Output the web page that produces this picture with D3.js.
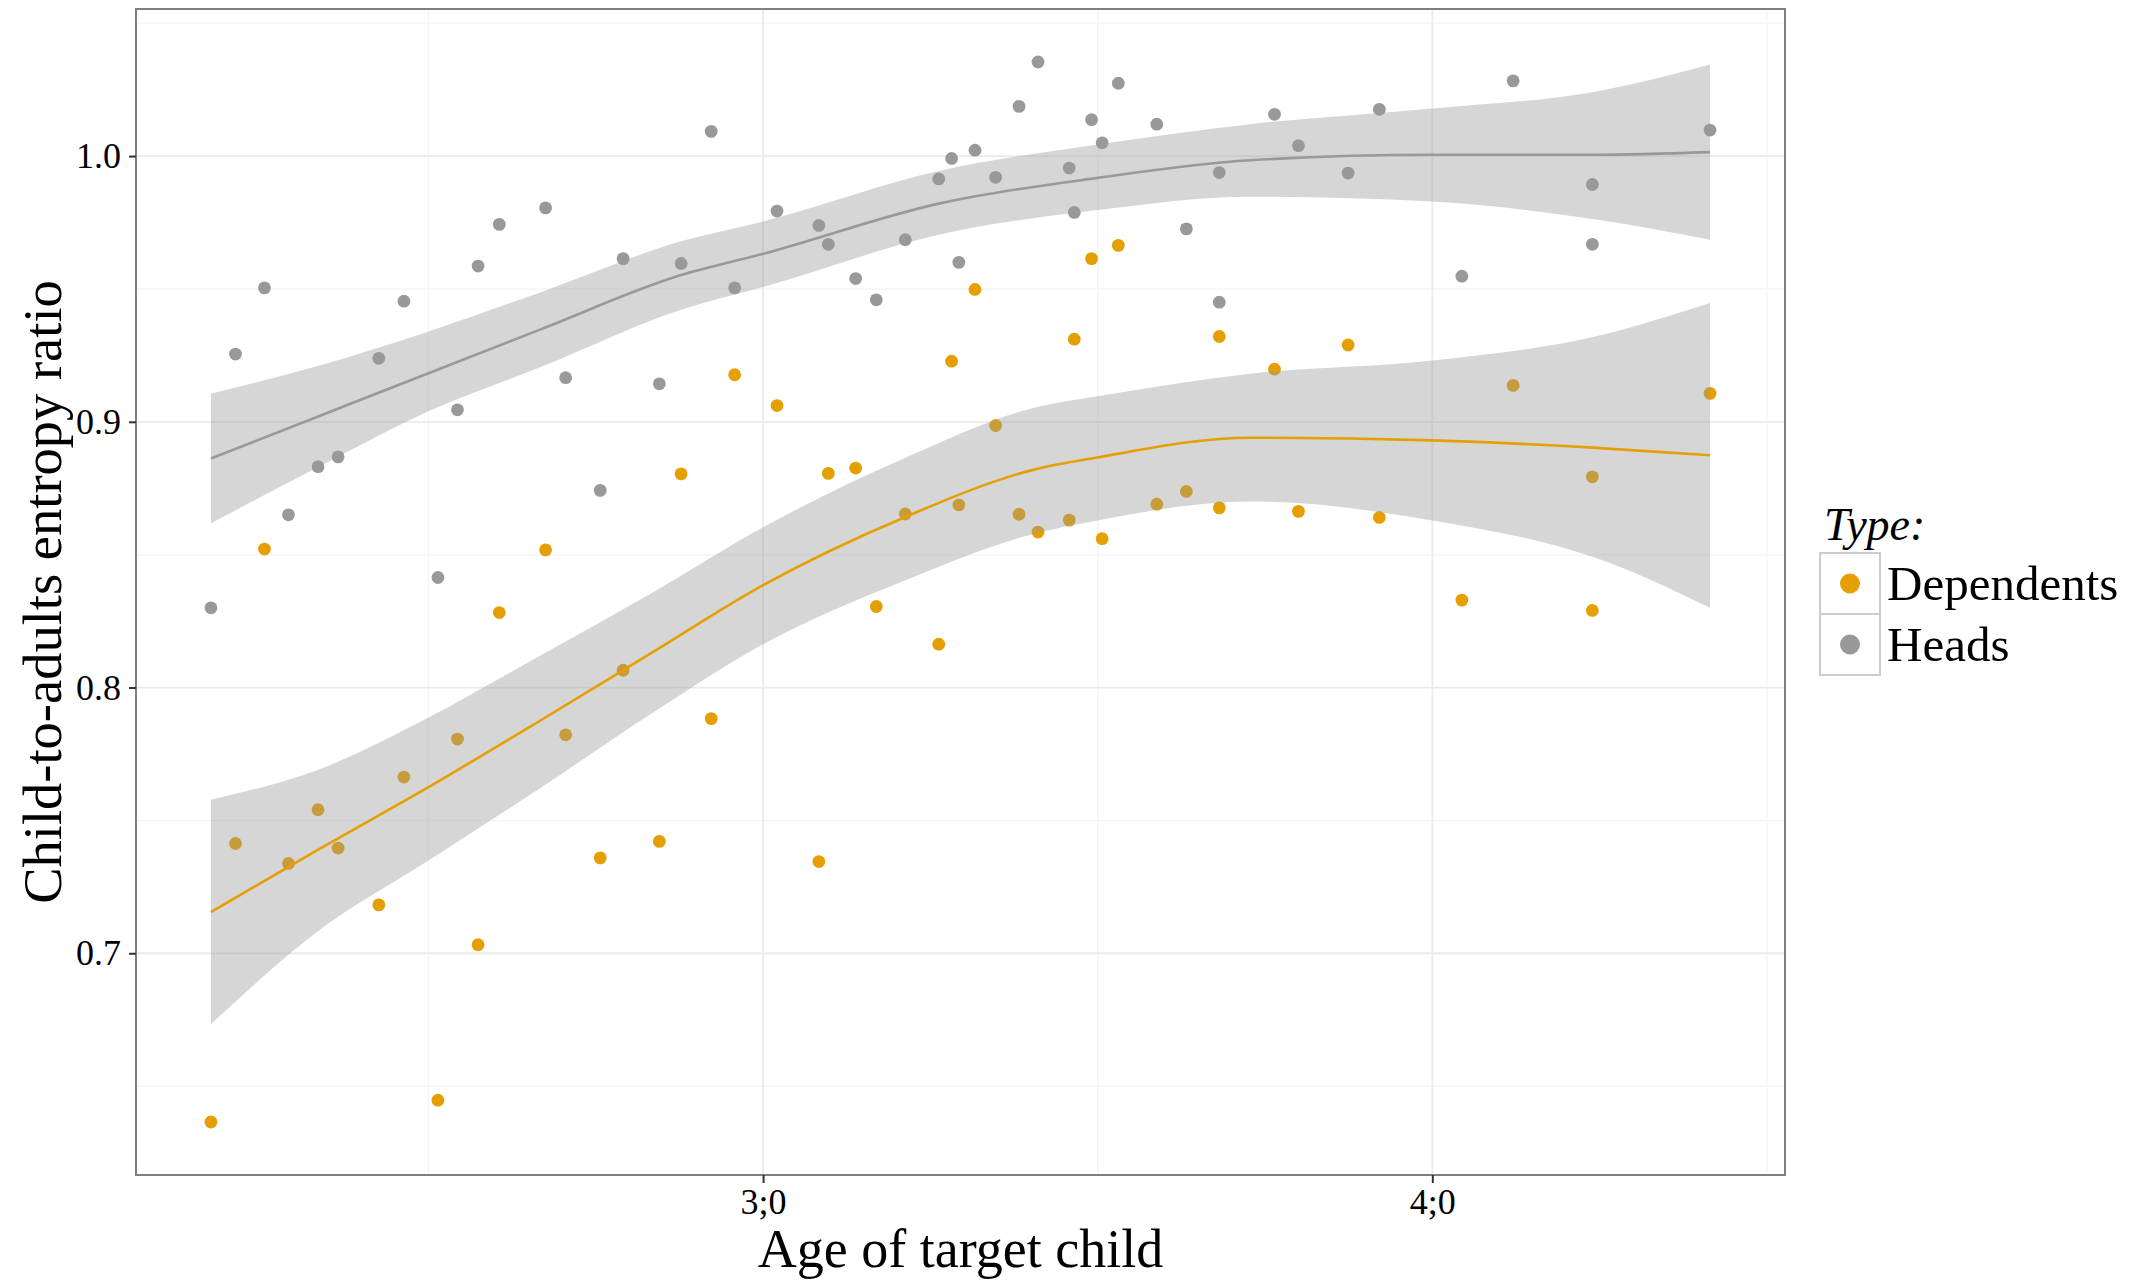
<!DOCTYPE html>
<html>
<head>
<meta charset="utf-8">
<script src="https://cdn.jsdelivr.net/npm/d3@7"></script>
<style>
  html, body { margin: 0; padding: 0; background: #ffffff; }
  svg text { font-family: "Liberation Serif", "DejaVu Serif", serif; fill: #000; }
</style>
</head>
<body>
<svg id="chart" width="2135" height="1280"></svg>
<script>
// ---- Data (age in months; ratio values) ----
const ages = [26.10, 26.54, 27.06, 27.49, 28.02, 28.38, 29.11, 29.56, 30.17, 30.52,
  30.89, 31.27, 32.10, 32.46, 33.08, 33.49, 34.14, 34.53, 35.07, 35.49,
  36.25, 37.00, 37.17, 37.66, 38.03, 38.55, 39.15, 39.38, 39.51, 39.80,
  40.17, 40.59, 40.93, 41.49, 41.58, 41.89, 42.08, 42.37, 43.06, 43.59,
  44.18, 44.18, 45.17, 45.60, 46.49, 47.05, 48.53, 49.45, 50.87, 50.87, 52.98];

const dependents = [0.6365, 0.7413, 0.8521, 0.7338, 0.7540, 0.7396, 0.7182, 0.7663, 0.6447, 0.7806,
  0.7032, 0.8282, 0.8518, 0.7822, 0.7359, 0.8065, 0.7421, 0.8804, 0.7883, 0.9177,
  0.9061, 0.7345, 0.8806, 0.8826, 0.8305, 0.8653, 0.8163, 0.9228, 0.8687, 0.9498,
  0.8986, 0.8652, 0.8585, 0.8630, 0.9311, 0.9614, 0.8560, 0.9664, 0.8690, 0.8738,
  0.9321, 0.8676, 0.9198, 0.8663, 0.9289, 0.8640, 0.8329, 0.9137, 0.8793, 0.8290, 0.9107];

const heads = [0.8300, 0.9255, 0.9504, 0.8650, 0.8831, 0.8868, 0.9239, 0.9454, 0.8414, 0.9045,
  0.9586, 0.9743, 0.9805, 0.9166, 0.8742, 0.9614, 0.9143, 0.9596, 1.0093, 0.9504,
  0.9793, 0.9739, 0.9668, 0.9539, 0.9459, 0.9685, 0.9914, 0.9991, 0.9600, 1.0022,
  0.9920, 1.0187, 1.0354, 0.9955, 0.9788, 1.0137, 1.0050, 1.0274, 1.0120, 0.9726,
  0.9938, 0.9450, 1.0157, 1.0039, 0.9936, 1.0176, 0.9548, 1.0283, 0.9893, 0.9668, 1.0098];

// smoothed (loess) fits and confidence bands
const headsSmoothAges = [26.10, 28, 30, 32, 34.53, 36, 39.17, 42, 44.73, 48, 50.94, 52.98];
const headsFit = [0.8862, 0.9018, 0.9183, 0.9347, 0.9552, 0.9632, 0.9822, 0.9918, 0.9984, 1.0005, 1.0005, 1.0015];
const headsLo  = [0.8618, 0.8827, 0.9040, 0.9205, 0.9422, 0.9507, 0.9705, 0.9797, 0.9847, 0.9829, 0.9761, 0.9685];
const headsHi  = [0.9106, 0.9209, 0.9340, 0.9487, 0.9679, 0.9754, 0.9945, 1.0044, 1.0120, 1.0179, 1.0243, 1.0345];

const depSmoothAges = [26.10, 28, 30, 32, 34, 36, 38.53, 40.86, 42, 44.73, 48, 50.94, 52.98];
const depFit = [0.7155, 0.7387, 0.7625, 0.7875, 0.8130, 0.8385, 0.8640, 0.8820, 0.8866, 0.8940, 0.8930, 0.8902, 0.8874];
const depLo  = [0.6733, 0.7080, 0.7349, 0.7621, 0.7902, 0.8163, 0.8402, 0.8579, 0.8629, 0.8700, 0.8629, 0.8487, 0.8300];
const depHi  = [0.7578, 0.7689, 0.7887, 0.8120, 0.8355, 0.8603, 0.8863, 0.9053, 0.9096, 0.9181, 0.9231, 0.9322, 0.9447];

const xTickValues = [36, 48];
const xTickLabels = ["3;0", "4;0"];
const xMinorValues = [30, 42, 54];
const yTickValues = [0.7, 0.8, 0.9, 1.0];
const yMinorValues = [0.65, 0.75, 0.85, 0.95, 1.05];

const seriesNames = ["Dependents", "Heads"];
const seriesColors = ["#E69F00", "#999999"];

// ---- Layout ----
const svg = d3.select("#chart");
const panel = { left: 136, right: 1785, top: 9, bottom: 1175 };

function expand(ext) { const s = ext[1] - ext[0]; return [ext[0] - 0.05 * s, ext[1] + 0.05 * s]; }
const allY = dependents.concat(heads);
const x = d3.scaleLinear().domain(expand(d3.extent(ages))).range([panel.left, panel.right]);
const y = d3.scaleLinear().domain(expand(d3.extent(allY))).range([panel.bottom, panel.top]);

// grid
const grid = svg.append("g");
grid.selectAll(".ymin").data(yMinorValues.filter(v => y(v) > panel.top && y(v) < panel.bottom)).enter().append("line")
  .attr("x1", panel.left).attr("x2", panel.right).attr("y1", d => y(d)).attr("y2", d => y(d))
  .attr("stroke", "#f5f5f5").attr("stroke-width", 1.5);
grid.selectAll(".xmin").data(xMinorValues.filter(v => x(v) > panel.left && x(v) < panel.right)).enter().append("line")
  .attr("y1", panel.top).attr("y2", panel.bottom).attr("x1", d => x(d)).attr("x2", d => x(d))
  .attr("stroke", "#f5f5f5").attr("stroke-width", 1.5);
grid.selectAll(".ymaj").data(yTickValues).enter().append("line")
  .attr("x1", panel.left).attr("x2", panel.right).attr("y1", d => y(d)).attr("y2", d => y(d))
  .attr("stroke", "#ebebeb").attr("stroke-width", 1.8);
grid.selectAll(".xmaj").data(xTickValues).enter().append("line")
  .attr("y1", panel.top).attr("y2", panel.bottom).attr("x1", d => x(d)).attr("x2", d => x(d))
  .attr("stroke", "#ebebeb").attr("stroke-width", 1.8);

// points
const pts = svg.append("g");
const pointData = [];
ages.forEach((a, i) => {
  pointData.push({ age: a, v: dependents[i], s: 0 });
  pointData.push({ age: a, v: heads[i], s: 1 });
});
pts.selectAll("circle").data(pointData).enter().append("circle")
  .attr("cx", d => x(d.age)).attr("cy", d => y(d.v)).attr("r", 6.4)
  .attr("fill", d => seriesColors[d.s]);

// smooths
const area = d3.area().curve(d3.curveMonotoneX)
  .x(d => x(d.a)).y0(d => y(d.lo)).y1(d => y(d.hi));
const line = d3.line().curve(d3.curveMonotoneX)
  .x(d => x(d.a)).y(d => y(d.f));

const smooths = [
  { ages: depSmoothAges, fit: depFit, lo: depLo, hi: depHi, s: 0 },
  { ages: headsSmoothAges, fit: headsFit, lo: headsLo, hi: headsHi, s: 1 }
];
const sm = svg.append("g");
smooths.forEach(g => {
  const rows = g.ages.map((a, i) => ({ a: a, f: g.fit[i], lo: g.lo[i], hi: g.hi[i] }));
  sm.append("path").datum(rows).attr("d", area)
    .attr("fill", "#999999").attr("fill-opacity", 0.4).attr("stroke", "none");
  sm.append("path").datum(rows).attr("d", line)
    .attr("fill", "none").attr("stroke", seriesColors[g.s]).attr("stroke-width", 2.6);
});

// panel border
svg.append("rect").attr("x", panel.left).attr("y", panel.top)
  .attr("width", panel.right - panel.left).attr("height", panel.bottom - panel.top)
  .attr("fill", "none").attr("stroke", "#7f7f7f").attr("stroke-width", 2);

// axes
const xAxis = d3.axisBottom(x).tickValues(xTickValues)
  .tickFormat((d, i) => xTickLabels[i]).tickSize(8).tickPadding(5);
const gx = svg.append("g").attr("transform", `translate(0,${panel.bottom})`).call(xAxis);
gx.select(".domain").remove();
gx.selectAll(".tick line").attr("stroke", "#333").attr("stroke-width", 2);
gx.selectAll(".tick text").attr("font-size", 36).attr("font-family", "Liberation Serif").attr("fill", "#000");

const yAxis = d3.axisLeft(y).tickValues(yTickValues).tickFormat(d3.format(".1f")).tickSize(7).tickPadding(8);
const gy = svg.append("g").attr("transform", `translate(${panel.left},0)`).call(yAxis);
gy.select(".domain").remove();
gy.selectAll(".tick line").attr("stroke", "#333").attr("stroke-width", 2);
gy.selectAll(".tick text").attr("font-size", 36).attr("font-family", "Liberation Serif").attr("fill", "#000");

// axis titles
svg.append("text").attr("x", (panel.left + panel.right) / 2).attr("y", 1267)
  .attr("text-anchor", "middle").attr("font-size", 54).text("Age of target child");
svg.append("text").attr("transform", `translate(61,${(panel.top + panel.bottom) / 2}) rotate(-90)`)
  .attr("text-anchor", "middle").attr("font-size", 54.5).text("Child-to-adults entropy ratio");

// legend
const lg = svg.append("g");
lg.append("text").attr("x", 1824).attr("y", 540).attr("font-size", 46)
  .attr("font-style", "italic").text("Type:");
seriesNames.forEach((n, i) => {
  const top = 553 + i * 61;
  lg.append("rect").attr("x", 1820).attr("y", top).attr("width", 60).attr("height", 61)
    .attr("fill", "#fff").attr("stroke", "#cccccc").attr("stroke-width", 2);
  lg.append("circle").attr("cx", 1850).attr("cy", top + 30.5).attr("r", 10)
    .attr("fill", seriesColors[i]);
  lg.append("text").attr("x", 1887).attr("y", top + 47).attr("font-size", 49).text(n);
});
</script>
</body>
</html>
